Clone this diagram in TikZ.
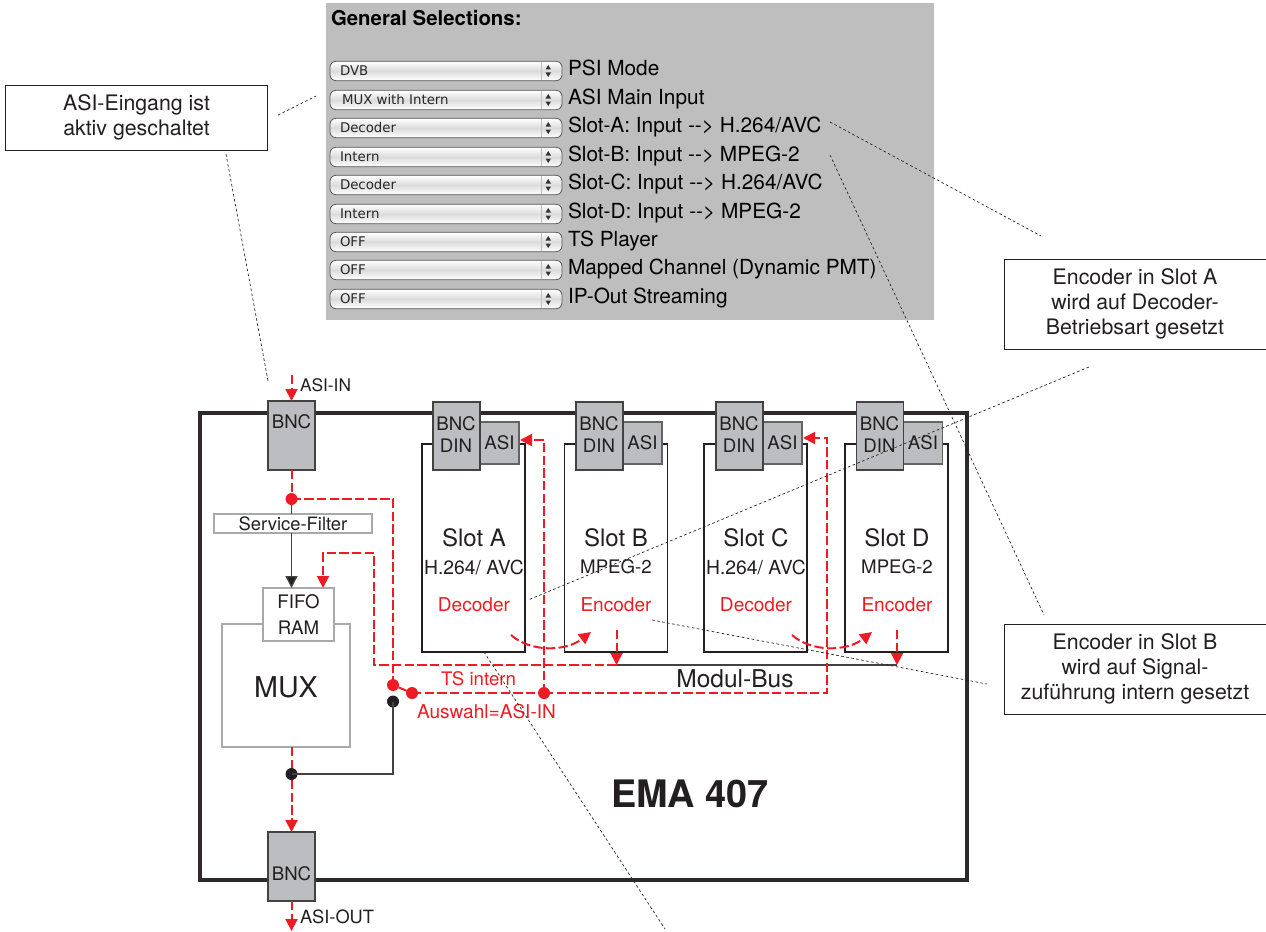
\documentclass[tikz,border=0pt]{standalone}
\usepackage{fontspec}
\setmainfont{TeX Gyre Heros}
\newfontfamily\uifont{DejaVu Sans}
\usetikzlibrary{arrows.meta,calc}
\definecolor{rd}{HTML}{ED1C24}
\definecolor{panel}{HTML}{BEBEBE}
\definecolor{conn}{HTML}{BCBDC0}
\definecolor{ink}{HTML}{231F20}
\definecolor{frame}{HTML}{A7A9AC}
\newcommand{\fs}[1]{\fontsize{#1}{#1}\selectfont}
\tikzset{
  x=0.75pt,y=-0.75pt,
  every node/.style={inner sep=0pt,outer sep=0pt,text=ink},
  panelbox/.style={fill=panel,draw=none},
  callout/.style={draw=ink,line width=0.5pt,fill=white,align=center,font=\fs{16},text=ink},
  bncbox/.style={draw=ink!85,line width=1.2pt,fill=conn},
  slotbox/.style={draw=ink,line width=1pt,fill=white},
  softbox/.style={draw=frame,line width=1.2pt,fill=white},
  dd/.style={draw=black!65,line width=0.6pt,rounded corners=4.5pt,top color=white,bottom color=white,middle color=black!14,minimum width=174pt,minimum height=14.5pt},
  ddtext/.style={font=\uifont\fs{10},text=black!85,anchor=base west},
  ddlabel/.style={font=\fs{15.6},text=black,anchor=base west},
  redflow/.style={draw=rd,line width=1.5pt,dash pattern=on 7pt off 2.5pt},
  redhead/.style={redflow,-{Triangle[length=9pt,width=9pt,fill=rd]}},
  blackline/.style={draw=ink!85,line width=1pt},
  leader/.style={draw=ink,line width=0.5pt,dash pattern=on 2pt off 1.8pt},
  rdot/.style={circle,fill=rd,minimum size=9pt},
  kdot/.style={circle,fill=ink,minimum size=9pt},
  redtext/.style={text=rd,font=\fs{14.3}},
  slotname/.style={font=\fs{18}},
  conlabel/.style={font=\fs{14},align=center}
}
\newcommand{\ddrow}[4]{%
  \node[dd] (dd#1) at (446,#2) {};
  \draw[black!25,line width=0.5pt] (541,#2-9) -- (541,#2+9);
  \fill[black!80] (545.5,#2-1.5) -- (551,#2-1.5) -- (548.2,#2-6) -- cycle;
  \fill[black!80] (545.5,#2+1.5) -- (551,#2+1.5) -- (548.2,#2+6) -- cycle;
  \node[ddtext] (ddt#1) at (340,#2+4) {#3};
  \node[ddlabel] (ddl#1) at (568,#2+4) {#4};
}
\newcommand{\slotdraw}[7]{% name, left, text-centre, bnc-left, sub, mode, sub size
  \filldraw[slotbox] (#2,444) rectangle (#2+103,652);
  \filldraw[bncbox,draw=ink!70] (#4+46,422) rectangle (#4+86,464);
  \filldraw[bncbox] (#4,402) rectangle (#4+47,470);
  \node[conlabel,text=ink] (bnc#1) at (#4+23,434.5) {BNC\\[3pt]DIN};
  \node[conlabel] (asi#1) at (#4+66.5,443) {ASI};
  \node[slotname] (slot#1) at (#3,538) {Slot #1};
  \node[font=\fs{#7}] (sub#1) at (#3,567) {#5};
  \node[redtext] (mode#1) at (#3,605) {#6};
}
\begin{document}
\begin{tikzpicture}
\useasboundingbox (0,0) rectangle (1266,931);
% --- settings panel
\fill[panelbox] (326,3) rectangle (934,320);
\node[anchor=west,font=\bfseries\fs{15.3},text=black] (gs) at (331,18) {General Selections:};
\ddrow{a}{71}{DVB}{PSI Mode}
\ddrow{b}{100}{\hspace{1.5pt}MUX with Intern}{ASI Main Input}
\ddrow{c}{128}{Decoder}{Slot-A: Input -{}-{}> H.264/AVC}
\ddrow{d}{157}{Intern}{Slot-B: Input -{}-{}> MPEG-2}
\ddrow{e}{185}{Decoder}{Slot-C: Input -{}-{}> H.264/AVC}
\ddrow{f}{214}{Intern}{Slot-D: Input -{}-{}> MPEG-2}
\ddrow{g}{242}{OFF}{TS Player}
\ddrow{h}{270}{OFF}{Mapped Channel (Dynamic PMT)}
\ddrow{i}{299}{OFF}{IP-Out Streaming}
% --- device frame
\draw[draw=ink!95,line width=2.5pt] (200,413) rectangle (967,880);
\node[font=\bfseries\fs{28.4}] (ema) at (690,794) {EMA 407};
% --- BNC in/out
\filldraw[bncbox] (268,401) rectangle (315,470);
\node[conlabel] (bnct) at (291.5,422) {BNC};
\filldraw[bncbox] (268,832) rectangle (315,901);
\node[conlabel] (bncb) at (291.5,874) {BNC};
\coordinate (inS) at (291.5,375);
\coordinate (inE) at (291.5,401);
\coordinate (bncTb) at (291.5,470);
\coordinate (bncBt) at (291.5,832);
\coordinate (bncBb) at (291.5,901);
\coordinate (outE) at (291.5,931);
\node[anchor=west,font=\fs{13}] (asiin) at (300,385) {ASI-IN};
\node[anchor=west,font=\fs{13.7}] (asiout) at (300,917) {ASI-OUT};
% --- service filter, FIFO, MUX
\filldraw[softbox] (214,514) rectangle (372,533);
\node[font=\fs{13.8}] (sf) at (293,523.5) {Service-Filter};
\filldraw[softbox] (222,624) rectangle (350,747);
\filldraw[softbox] (263,588) rectangle (334,641);
\node[font=\fs{14},align=center] (fifo) at (298.5,614.5) {FIFO\\[5pt]RAM};
\node[font=\fs{21.5}] (mux) at (286,687) {MUX};
\coordinate (sfT) at (291.5,514);
\coordinate (sfB) at (291.5,533);
\coordinate (fifoT) at (291.5,588);
\coordinate (fifoR) at (323,588);
\coordinate (muxB) at (291.5,747);
% --- slots
\slotdraw{A}{422}{474}{433}{H.264/ AVC}{Decoder}{14.5}
\slotdraw{B}{564.5}{616}{576}{MPEG-2}{Encoder}{14}
\slotdraw{C}{704}{756}{716}{H.264/ AVC}{Decoder}{14.5}
\slotdraw{D}{845}{897}{856.5}{MPEG-2}{Encoder}{14}
\coordinate (asiAr) at (520,440);
\coordinate (asiCr) at (803,438);
% --- module bus
\coordinate (busL) at (616.5,665);
\coordinate (busR) at (897,665);
\draw[blackline] (busL) -- (busR);
\node[font=\fs{18.4}] (bus) at (735,679) {Modul-Bus};
\node[redtext,font=\fs{14}] (ts) at (478.5,679) {TS intern};
\node[redtext] (ausw) at (486.5,712) {Auswahl=ASI-IN};
% --- junction dots
\node[rdot] (j1) at (291.5,499) {};
\node[rdot] (sw1) at (393,685) {};
\node[rdot] (sw2) at (412,693) {};
\node[rdot] (j2) at (544,693) {};
\node[kdot] (sw3) at (393,701.5) {};
\node[kdot] (j3) at (291.5,774) {};
% --- black paths
\draw[blackline] (j1) -- (sfT);
\draw[blackline,-{Triangle[length=9pt,width=9pt,fill=ink]}] (sfB) -- (fifoT);
\draw[blackline] (sw3.center) -- (393,774) -- (j3.center);
% --- red flows
\draw[redhead] (inS) -- (inE);
\draw[redflow] (bncTb) -- (j1);
\draw[redflow] (j1.center) -- (393,499) -- (sw1.center);
\draw[redflow] (sw1) -- (sw2);
\draw[redflow] (sw2.center) -- (j2.center);
\draw[redhead] (j2.center) -- (544,440) -- (asiAr);
\draw[redhead] (j2.center) -- (827,693) -- (827,438) -- (asiCr);
\draw[redhead] (busL) -- (374,665) -- (374,553) -- (323,553) -- (fifoR);
\draw[redhead] (616.5,630) -- (busL);
\draw[redhead] (897,630) -- (busR);
\draw[redflow] (muxB) -- (j3);
\draw[redhead] (j3) -- (bncBt);
\draw[redhead] (bncBb) -- (outE);
\coordinate (cvA) at (511,635);
\coordinate (cvB) at (591,632);
\coordinate (cvC) at (792,635);
\coordinate (cvD) at (872,632);
\draw[redhead] (cvA) .. controls (530,652) and (565,652) .. (cvB);
\draw[redhead] (cvC) .. controls (811,652) and (846,652) .. (cvD);
% --- callouts
\node[callout,minimum width=196.5pt,minimum height=48.5pt] (c1) at (136.5,117.5) {ASI-Eingang ist\\[2.75pt]aktiv geschaltet};
\node[callout,minimum width=196.5pt,minimum height=67.5pt] (c2) at (1135,304) {Encoder in Slot A\\[2.75pt]wird auf Decoder-\\[2.75pt]Betriebsart gesetzt};
\node[callout,minimum width=196.5pt,minimum height=67.5pt] (c3) at (1135,669) {Encoder in Slot B\\[2.75pt]wird auf Signal-\\[2.75pt]zuführung intern gesetzt};
% --- leader lines
\foreach \a/\b/\c/\d/\nm in {278/115/316/96/p,226/154/268/381/q,830/122/1041/236/r,830/155/1044/615/s,1089/367/528/600/t,652/620/987/684/u,484/652/665/929/v}{
  \coordinate (\nm1) at (\a,\b);
  \coordinate (\nm2) at (\c,\d);
  \draw[leader] (\nm1) -- (\nm2);
}
\end{tikzpicture}
\end{document}
